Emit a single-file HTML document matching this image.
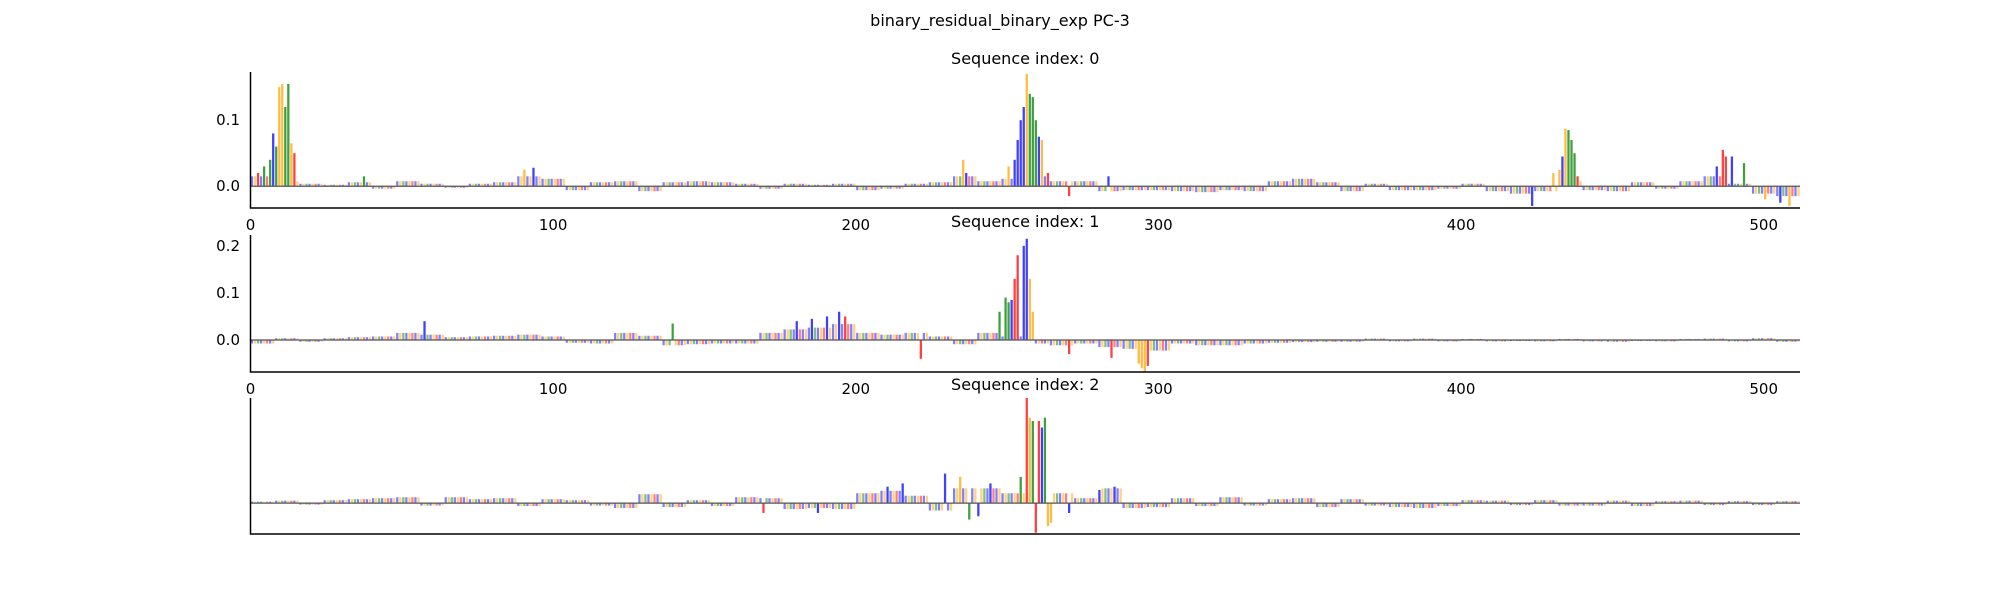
<!DOCTYPE html>
<html><head><meta charset="utf-8"><style>
body{margin:0;background:#fff}
svg{display:block;font-family:"DejaVu Sans","Liberation Sans",sans-serif}
</style></head><body>
<svg id="chart" width="2000" height="600" viewBox="0 0 2000 600">
<text x="1000" y="26" text-anchor="middle" font-size="16">binary_residual_binary_exp PC-3</text>
</svg>
<script>
const colors={A:'#008000',C:'#0000ff',G:'#ffa500',T:'#ff0000'};
const xTicks=[0,100,200,300,400,500];
const p1Ticks=[0.0,0.1];
const p2Ticks=[0.0,0.1,0.2];
const bgBases=['C','G','A','C','G','T','C','G'];
// panel 0 peaks
const p0Pos=[2,4,6,7,8,9,10,11,12,13,14,37,90,93,235,236,250,252,253,254,255,256,257,258,259,260,261,263,270,283,423,430,432,433,434,435,436,437,438,484,486,487,489,493,500,505,508];
const p0Val=[0.02,0.03,0.04,0.08,0.06,0.15,0.155,0.12,0.155,0.065,0.05,0.015,0.025,0.028,0.04,0.02,0.03,0.04,0.07,0.1,0.12,0.17,0.14,0.135,0.1,0.075,0.07,0.02,-0.015,0.015,-0.03,0.02,0.025,0.045,0.087,0.085,0.07,0.05,0.015,0.03,0.055,0.045,0.045,0.035,-0.02,-0.025,-0.03];
const p0Base=['T','A','A','C','A','G','G','A','A','G','T','A','G','C','G','C','G','C','C','C','C','G','A','A','A','C','G','T','T','C','C','G','G','C','G','A','A','A','T','C','T','T','C','A','G','C','G'];
const p0Bg=[0.02,0.01,0.005,0.003,0.008,-0.005,0.01,0.005,-0.003,0.005,0.008,0.02,0.015,-0.008,0.008,0.01,-0.01,0.008,0.01,0.008,0.005,-0.005,0.005,0.003,0.005,-0.008,-0.005,0.005,0.008,0.02,0.01,0.015,0.02,0.01,0.01,-0.01,-0.008,-0.008,-0.01,-0.012,-0.008,-0.01,0.01,0.015,0.008,-0.01,0.005,-0.008,-0.008,-0.005,0.005,-0.01,-0.015,-0.01,0.01,-0.008,-0.01,0.008,-0.005,0.01,0.02,0.005,-0.015,-0.02];
// panel 1 peaks
const p1Pos=[57,139,180,185,190,194,196,221,247,249,250,251,252,253,255,256,257,258,270,284,293,294,295,296];
const p1Val=[0.04,0.035,0.04,0.045,0.05,0.06,0.05,-0.04,0.06,0.09,0.08,0.085,0.13,0.18,0.2,0.215,0.13,0.06,-0.03,-0.038,-0.05,-0.06,-0.068,-0.055];
const p1Base=['C','A','C','C','C','C','T','T','A','A','A','C','T','T','C','C','G','G','T','T','G','G','G','T'];
const p1Bg=[-0.01,0.005,-0.005,0.005,0.008,0.01,0.02,0.015,0.008,0.01,0.012,0.015,0.01,-0.008,-0.01,0.02,0.012,-0.015,-0.012,-0.01,-0.01,0.02,0.03,0.035,0.045,0.02,0.015,0.02,0.01,-0.012,0.02,0.01,-0.01,-0.015,-0.01,-0.02,-0.025,-0.03,-0.01,-0.015,-0.015,-0.01,-0.008,-0.006,-0.005,-0.005,0.004,-0.004,0.004,-0.004,0.003,-0.004,-0.003,-0.004,0.003,-0.004,-0.005,-0.003,-0.004,0.003,0.004,-0.004,0.005,-0.005];
// panel 2 peaks
const p2Pos=[169,187,210,215,229,234,237,240,244,254,256,257,258,259,260,261,262,263,264,270,280,285];
const p2Val=[-0.015,-0.015,0.025,0.03,0.045,0.04,-0.025,-0.02,0.03,0.04,0.16,0.13,0.125,-0.045,0.125,0.115,0.13,-0.035,-0.03,-0.015,0.02,0.025];
const p2Base=['T','C','C','C','C','G','A','C','C','A','T','G','A','T','T','C','A','G','G','C','C','C'];
const p2Bg=[0.003,0.005,-0.003,0.006,0.008,0.01,0.012,-0.005,0.012,0.008,0.01,-0.006,0.008,0.006,-0.005,-0.01,0.018,-0.008,0.006,-0.006,0.012,0.01,-0.012,-0.01,-0.012,0.02,0.025,0.015,-0.015,0.03,0.03,0.02,-0.015,0.02,0.01,0.03,-0.01,-0.008,0.01,-0.006,0.012,-0.005,0.008,0.01,-0.008,0.008,-0.005,-0.008,-0.01,-0.006,0.006,0.005,-0.004,0.006,-0.005,-0.005,0.005,-0.006,0.004,0.005,-0.004,0.004,-0.004,0.004];

const svg=document.getElementById('chart');
const NS='http://www.w3.org/2000/svg';
const X0=250.5,X1=1800,N=512;
function xs(i){return X0+(X1-X0)*(i+0.5)/N;}
const panels=[
 {title:'Sequence index: 0',top:72,bot:208,ymin:-0.033,ymax:0.173,pos:p0Pos,val:p0Val,base:p0Base,bg:p0Bg,yt:p1Ticks,xt:true},
 {title:'Sequence index: 1',top:235,bot:372,ymin:-0.068,ymax:0.223,pos:p1Pos,val:p1Val,base:p1Base,bg:p1Bg,yt:p2Ticks,xt:true},
 {title:'Sequence index: 2',top:398,bot:534,ymin:-0.047,ymax:0.16,pos:p2Pos,val:p2Val,base:p2Base,bg:p2Bg,yt:[],xt:false}
];
function mk(tag,attrs,parent){const e=document.createElementNS(NS,tag);for(const k in attrs)e.setAttribute(k,attrs[k]);(parent||svg).appendChild(e);return e;}
const cw=(X1-X0)/N*0.75;
panels.forEach((p,pi)=>{
 const g=mk('g',{});
 
 
 const ys=v=>p.bot-(v-p.ymin)/(p.ymax-p.ymin)*(p.bot-p.top);
 const t=mk('text',{x:(X0+X1)/2,y:p.top-8,'text-anchor':'middle','font-size':16},g);
 t.textContent=p.title;
 
 
 const y0=ys(0);
 p.bg.forEach((v,b)=>{
  for(let k=0;k<8;k++){
   const i=b*8+k; if(p.pos.includes(i))continue;
   const h=Math.abs(ys(v)-y0)*0.75;
   const r=mk('rect',{x:xs(i)-cw/2,y:v>=0?y0-h:y0,width:cw,height:Math.max(h,0.5),fill:colors[bgBases[k]],opacity:0.5},g);
   
   
  }
 });
 p.pos.forEach((i,j)=>{
  const v=p.val[j];const h=Math.abs(ys(v)-y0);
  const r=mk('rect',{x:xs(i)-cw/2,y:v>=0?y0-h:y0,width:cw,height:h,fill:colors[p.base[j]],opacity:0.75},g);
  
  
 });
 const zl=mk('line',{x1:X0,x2:X1,y1:y0,y2:y0,stroke:'#555','stroke-width':1.2},g);
 
 
 const ax=mk('path',{d:`M${X0},${p.top}V${p.bot}H${X1}`,fill:'none',stroke:'#000','stroke-width':1.5},g);
 
 
 p.yt.forEach(v=>{
  const tt=mk('text',{x:240,y:ys(v)+5,'text-anchor':'end','font-size':15},g);
  tt.textContent=v.toFixed(1);
  
  
 });
 if(p.xt) xTicks.forEach(v=>{
  const tt=mk('text',{x:xs(v)-1.5,y:p.bot+22,'text-anchor':'middle','font-size':15},g);
  tt.textContent=v;
  
  
 });
});
</script>
</body></html>
